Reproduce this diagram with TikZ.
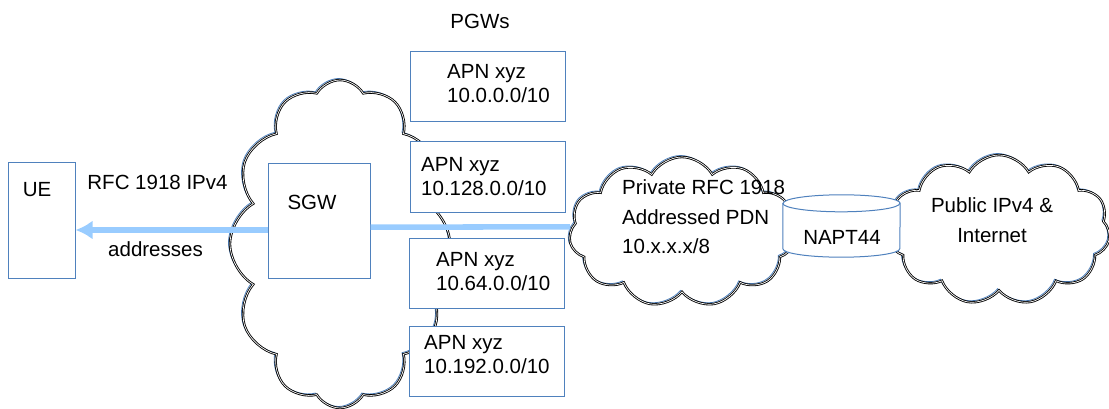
\documentclass[tikz,border=0pt]{standalone}
\usepackage{fontspec}
\setmainfont{Liberation Sans}
\usetikzlibrary{shapes.symbols}
\usetikzlibrary{arrows.meta}
\definecolor{boxblue}{RGB}{79,129,189}
\definecolor{linkblue}{RGB}{153,204,255}

\tikzset{
  box/.style={draw=boxblue, line width=1pt, fill=white, inner sep=0pt},
  txt/.style={inner sep=0pt, align=left},
  puff/.style={cloud, cloud puffs=#1, cloud puff arc=120, cloud ignores aspect, inner sep=0pt},
  puffline/.style={draw=black, double=white, double distance=0.7pt, line width=0.85pt},
  puffshade/.style={draw=boxblue, line width=0.8pt},
  link/.style={draw=linkblue, line width=5.5pt},
}

\begin{document}
\begin{tikzpicture}[x=1pt, y=-1pt, font=\fontsize{20.5}{24}\selectfont]
\useasboundingbox (0,0) rectangle (1109,409);

% Draw the core network cloud
\node[puff=12, puffshade, minimum width=220pt, minimum height=328pt] (coreblue) at (338.5,242.5) {};
\node[puff=12, puffline, minimum width=220pt, minimum height=328pt] (core) at (340,244) {};

% UE and SGW
\node[box, minimum width=67pt, minimum height=115pt] (ue) at (41.5,220.5) {};
\node[txt] (uetxt) at (37,190) {UE};
\node[box, minimum width=102pt, minimum height=114pt] (sgw) at (319,221) {};
\node[txt] (sgwtxt) at (312,202) {SGW};

% PGWs
\node[txt] (pgwtxt) at (480,21) {PGWs};
\node[box, minimum width=155pt, minimum height=70pt] (pgw1) at (487.5,87) {};
\node[box, minimum width=155pt, minimum height=70pt] (pgw2) at (487.5,177) {};
\node[box, minimum width=155pt, minimum height=70pt] (pgw3) at (486.5,273.5) {};
\node[box, minimum width=155pt, minimum height=70pt] (pgw4) at (486.5,361) {};
\node[txt, anchor=west] (pgw1txt) at (447,83.5) {APN xyz\\10.0.0.0/10};
\node[txt, anchor=west] (pgw2txt) at (421,176.5) {APN xyz\\10.128.0.0/10};
\node[txt, anchor=west] (pgw3txt) at (436,272) {APN xyz\\10.64.0.0/10};
\node[txt, anchor=west] (pgw4txt) at (424,355) {APN xyz\\10.192.0.0/10};

% Private PDN and Internet clouds
\node[puff=11, puffshade, minimum width=226pt, minimum height=150pt] (pdnblue) at (680.5,230.5) {};
\node[puff=11, puffline, minimum width=226pt, minimum height=150pt] (pdn) at (682,232) {};
\node[puff=11, puffshade, minimum width=222pt, minimum height=150pt] (inetblue) at (997.5,228.5) {};
\node[puff=11, puffline, minimum width=222pt, minimum height=150pt] (inet) at (999,230) {};
\node[txt, anchor=west, font=\fontsize{20.5}{29.5}\selectfont] (pdntxt) at (622,217) {Private RFC 1918\\Addressed PDN\\10.x.x.x/8};
\node[txt, align=center, font=\fontsize{20.5}{30}\selectfont] (inettxt) at (992,220) {Public IPv4 \&\\Internet};

% NAT box between the two
\node[inner sep=0pt, minimum width=117pt, minimum height=62pt] (napt) at (841.5,226) {};
\draw[draw=boxblue, line width=1pt, fill=white] ([yshift=-8.5pt]napt.north west) -- ([yshift=8.5pt]napt.south west)
  arc[start angle=180, end angle=360, x radius=58.5pt, y radius=8.5pt] -- ([yshift=-8.5pt]napt.north east)
  arc[start angle=0, end angle=180, x radius=58.5pt, y radius=8.5pt] -- cycle;
\draw[draw=boxblue, line width=1pt] ([yshift=-8.5pt]napt.north west) arc[start angle=180, end angle=360, x radius=58.5pt, y radius=8.5pt];
\node[txt] (napttxt) at (842,237) {NAPT44};

% address path
\draw[link, -{Latex[length=17pt,width=19pt]}] ([yshift=-9pt]sgw.west) -- ([yshift=-9.5pt]ue.east);
\draw[link] ([yshift=-6pt]sgw.east) -- ([yshift=5pt]pdn.west);
\node[txt] (rfctxt) at (157.5,182) {RFC 1918 IPv4};
\node[txt] (addrtxt) at (155.5,249) {addresses};

\end{tikzpicture}
\end{document}
